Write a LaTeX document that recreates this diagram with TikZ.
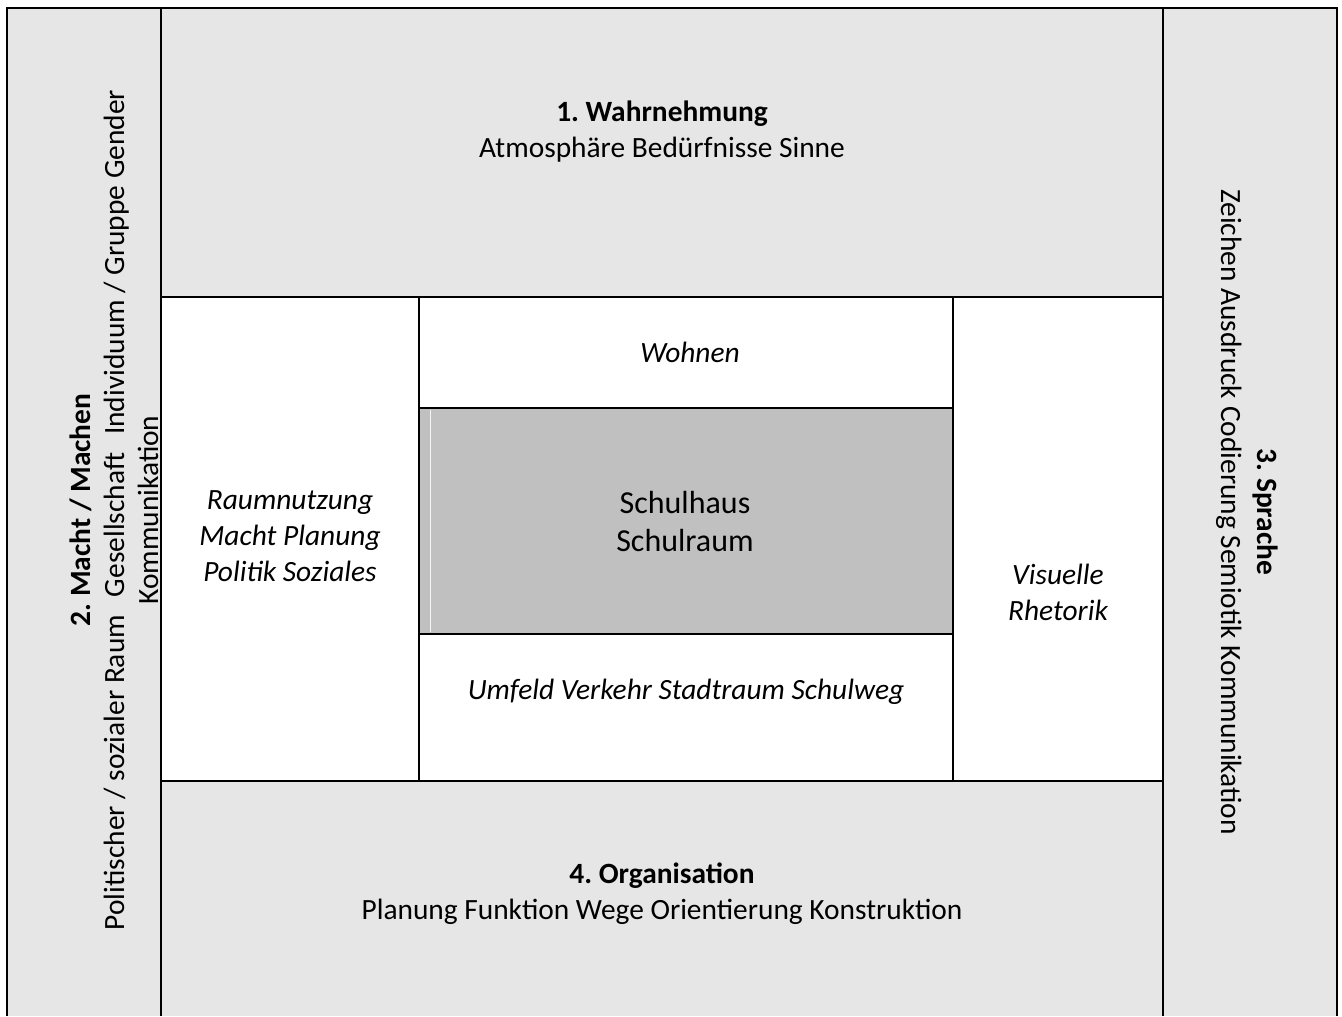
\documentclass[tikz,border=0pt]{standalone}
\usepackage{fontspec}
\setmainfont{Carlito}
\frenchspacing
\definecolor{fieldgray}{HTML}{E6E6E6}
\definecolor{coregray}{HTML}{C0C0C0}

\begin{document}
\begin{tikzpicture}[x=0.5pt, y=-0.5pt, line width=1pt,
    field/.style={draw=black, fill=fieldgray},
    core/.style={draw=black, fill=coregray},
    txt/.style={align=center, inner sep=0pt, font=\fontsize{14.7}{18}\selectfont},
    ital/.style={txt, font=\fontsize{14.7}{18}\selectfont\itshape}]
    \useasboundingbox (0, 0) rectangle (1342, 1016);
    \fill[fieldgray] (7, 8) rectangle (161, 1016);
    \draw (7, 1016) -- (7, 8) -- (161, 8) -- (161, 1016);
    \fill[fieldgray] (1163, 8) rectangle (1337, 1016);
    \draw (1163, 1016) -- (1163, 8) -- (1337, 8) -- (1337, 1016);
    \draw[field] (161, 8) rectangle (1163, 297);
    \fill[fieldgray] (161, 781) rectangle (1163, 1016);
    \draw (161, 1016) -- (161, 781) -- (1163, 781) -- (1163, 1016);
    \draw (161, 297) rectangle (419, 781);
    \draw (953, 297) rectangle (1163, 781);
    \draw (419, 297) rectangle (953, 408);
    \draw[core] (419, 408) rectangle (953, 634);
    \draw[white!85!coregray, line width=0.5pt] (430, 410) -- (430, 632);
    \draw (419, 634) rectangle (953, 781);
    \node[txt] (wahrnehmung) at (662, 132) {\textbf{1. Wahrnehmung}\\Atmosphäre Bedürfnisse Sinne};
    \node[txt, rotate=90, font=\fontsize{14.7}{17}\selectfont] (macht) at (114, 510) {\textbf{2. Macht / Machen}\\Politischer / sozialer Raum\hspace{9pt}Gesellschaft\hspace{9pt}Individuum / Gruppe Gender\\Kommunikation};
    \node[txt, rotate=-90] (sprache) at (1247, 512) {\textbf{3. Sprache}\\Zeichen Ausdruck Codierung Semiotik Kommunikation};
    \node[txt] (organisation) at (662, 894) {\textbf{4. Organisation}\\Planung Funktion Wege Orientierung Konstruktion};
    \node[ital] (raumnutzung) at (290, 536) {Raumnutzung\\Macht Planung\\Politik Soziales};
    \node[ital] (wohnen) at (690, 352) {Wohnen};
    \node[txt, font=\fontsize{16}{19}\selectfont] (schulhaus) at (685, 522) {Schulhaus\\Schulraum};
    \node[ital] (umfeld) at (686, 692) {Umfeld Verkehr Stadtraum Schulweg};
    \node[ital] (rhetorik) at (1058, 592) {Visuelle\\Rhetorik};
  \end{tikzpicture}
\end{document}
